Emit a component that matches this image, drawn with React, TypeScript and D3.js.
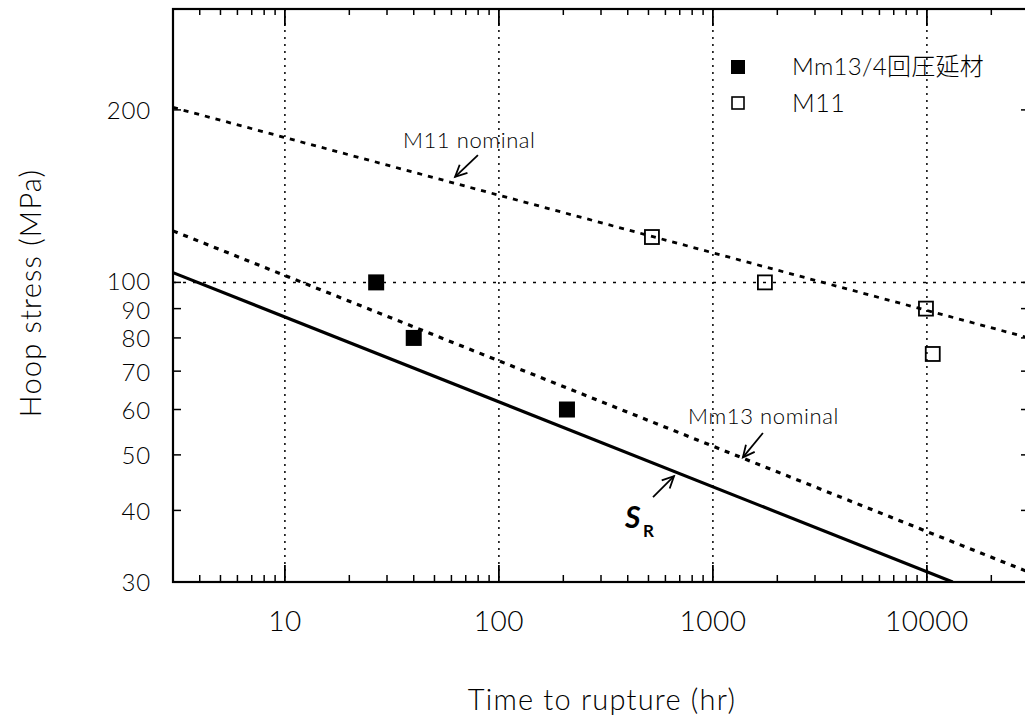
import React from "react";
import * as d3 from "d3";

const W = 1025;
const H = 723;

// Data
const mm13Time = [26.7, 40, 208];
const mm13Stress = [100, 80, 60];
const m11Time = [519, 1750, 9900, 10650];
const m11Stress = [120, 100, 90, 75];

const m11NominalTime = [3, 30000];
const m11NominalStress = [202, 80];
const mm13NominalTime = [3, 30000];
const mm13NominalStress = [123, 31.2];
const srTime = [3, 13200];
const srStress = [104, 30];

const xMajorTicks = [10, 100, 1000, 10000];
const xTickLabels = ["10", "100", "1000", "10000"];
const yTicks = [30, 40, 50, 60, 70, 80, 90, 100, 200];
const yTickLabels = ["30", "40", "50", "60", "70", "80", "90", "100", "200"];
const xGrid = [10, 100, 1000, 10000];
const yGrid = [100];

const legendLabels = ["Mm13/4回圧延材", "M11"];

const FONT = "Lato, 'Noto Sans CJK JP', sans-serif";

export default function App() {
  const left = 173, right = 1029, top = 9, bottom = 582;
  const x = d3.scaleLog().domain([3, 30000]).range([left, right]);
  const y = d3.scaleLog().domain([30, 300]).range([bottom, top]);

  const xMinor: number[] = [];
  for (let p = 0; p <= 4; p++) {
    for (let m = 2; m <= 9; m++) {
      const v = m * Math.pow(10, p);
      if (v >= 3 && v <= 30000) xMinor.push(v);
    }
  }

  const line = (ts: number[], ss: number[]) =>
    d3.line<number>().x((_, i) => x(ts[i])).y((_, i) => y(ss[i]))(ts.map((_, i) => i)) || "";

  const arrow = (tail: [number, number], tip: [number, number]) => {
    const tx = x(tail[0]), ty = y(tail[1]);
    const px = x(tip[0]), py = y(tip[1]);
    const ang = Math.atan2(ty - py, tx - px);
    const L = 13, a = 0.45;
    const h1 = [px + L * Math.cos(ang + a), py + L * Math.sin(ang + a)];
    const h2 = [px + L * Math.cos(ang - a), py + L * Math.sin(ang - a)];
    return (
      <g stroke="#000" strokeWidth={1.8} fill="none">
        <line x1={tx} y1={ty} x2={px} y2={py} />
        <polyline points={`${h1[0]},${h1[1]} ${px},${py} ${h2[0]},${h2[1]}`} />
      </g>
    );
  };

  const ms = 16;
  // small label nudges so that the tightly packed 80/90/100 labels do not collide
  const yLabelShift = (v: number) => (v === 100 ? -1 : v === 90 ? 2 : 1);

  return (
    <svg
      width={W}
      height={H}
      style={{ position: "absolute", left: 0, top: 0, background: "#fff" }}
      fontFamily={FONT}
      fontWeight={300}
      fill="#000"
    >
      <rect x={0} y={0} width={W} height={H} fill="#fff" />
      <defs>
        <clipPath id="plot">
          <rect x={left} y={top} width={right - left} height={bottom - top} />
        </clipPath>
      </defs>

      {/* grid */}
      {xGrid.map((v) => (
        <line key={"gx" + v} x1={x(v)} x2={x(v)} y1={top} y2={bottom}
          stroke="#000" strokeWidth={1.5} strokeDasharray="2 5" />
      ))}
      {yGrid.map((v) => (
        <line key={"gy" + v} x1={left} x2={right} y1={y(v)} y2={y(v)}
          stroke="#000" strokeWidth={1.5} strokeDasharray="3 7" />
      ))}

      {/* x ticks */}
      {xMinor.map((v) => (
        <g key={"xm" + v}>
          <line x1={x(v)} x2={x(v)} y1={bottom} y2={bottom - 7} stroke="#000" strokeWidth={1.5} />
          <line x1={x(v)} x2={x(v)} y1={top} y2={top + 6} stroke="#000" strokeWidth={1.5} />
        </g>
      ))}
      {xMajorTicks.map((v) => (
        <g key={"xM" + v}>
          <line x1={x(v)} x2={x(v)} y1={bottom} y2={bottom - 17} stroke="#000" strokeWidth={1.8} />
          <line x1={x(v)} x2={x(v)} y1={top} y2={top + 17} stroke="#000" strokeWidth={1.8} />
        </g>
      ))}
      {/* y ticks */}
      {yTicks.map((v) => (
        <g key={"yt" + v}>
          <line x1={left} x2={left + 8} y1={y(v)} y2={y(v)} stroke="#000" strokeWidth={1.5} />
          <line x1={right} x2={right - 8} y1={y(v)} y2={y(v)} stroke="#000" strokeWidth={1.5} />
        </g>
      ))}

      {/* lines */}
      <g clipPath="url(#plot)" fill="none" stroke="#000">
        <path d={line(m11NominalTime, m11NominalStress)} strokeWidth={2.8} strokeDasharray="5 6" />
        <path d={line(mm13NominalTime, mm13NominalStress)} strokeWidth={3.2} strokeDasharray="5 6" />
        <path d={line(srTime, srStress)} strokeWidth={3.2} />
      </g>

      {/* points */}
      {mm13Time.map((t, i) => (
        <rect key={"mm" + i} x={x(t) - ms / 2} y={y(mm13Stress[i]) - ms / 2} width={ms} height={ms} fill="#000" />
      ))}
      {m11Time.map((t, i) => (
        <rect key={"m11" + i} x={x(t) - ms / 2 + 1} y={y(m11Stress[i]) - ms / 2 + 1} width={ms - 2} height={ms - 2}
          fill="none" stroke="#000" strokeWidth={1.8} />
      ))}

      {/* frame */}
      <rect x={left} y={top} width={right - left} height={bottom - top} fill="none" stroke="#000" strokeWidth={2.2} />

      {/* tick labels */}
      {xMajorTicks.map((v, i) => (
        <text key={"xl" + v} x={x(v)} y={631} textAnchor="middle" fontSize={28} letterSpacing={0.5}>{xTickLabels[i]}</text>
      ))}
      {yTicks.map((v, i) => (
        <text key={"yl" + v} x={151} y={y(v) + yLabelShift(v)} dy="0.35em" textAnchor="end" fontSize={24} letterSpacing={0.8}>{yTickLabels[i]}</text>
      ))}

      {/* axis titles */}
      <text x={602} y={710} textAnchor="middle" fontSize={29} letterSpacing={1.2}>Time to rupture (hr)</text>
      <text transform="translate(41,293) rotate(-90)" textAnchor="middle" fontSize={29} letterSpacing={1.2}>Hoop stress (MPa)</text>

      {/* legend */}
      <rect x={731} y={60} width={14} height={14} fill="#000" />
      <text x={792} y={67} dy="0.35em" fontSize={24} letterSpacing={0.3}>{legendLabels[0]}</text>
      <rect x={732} y={97} width={12} height={12} fill="none" stroke="#000" strokeWidth={1.6} />
      <text x={792} y={103} dy="0.35em" fontSize={25} letterSpacing={0.5}>{legendLabels[1]}</text>

      {/* annotations */}
      <text x={x(35.6)} y={y(171.5)} fontSize={22} letterSpacing={0.6}>M11 nominal</text>
      {arrow([79.8, 166.7], [62.4, 152.8])}
      <text x={x(766)} y={y(56.6)} fontSize={22} letterSpacing={0.6}>Mm13 nominal</text>
      {arrow([1713, 54.6], [1381, 49.5])}
      {arrow([525, 42.2], [658, 45.9])}
      <text x={x(388)} y={y(37.3)} fontSize={30} fontWeight="bold" fontStyle="italic">S</text>
      <text x={x(388) + 18} y={y(37.3) + 9} fontSize={17} fontWeight="bold">R</text>
    </svg>
  );
}
